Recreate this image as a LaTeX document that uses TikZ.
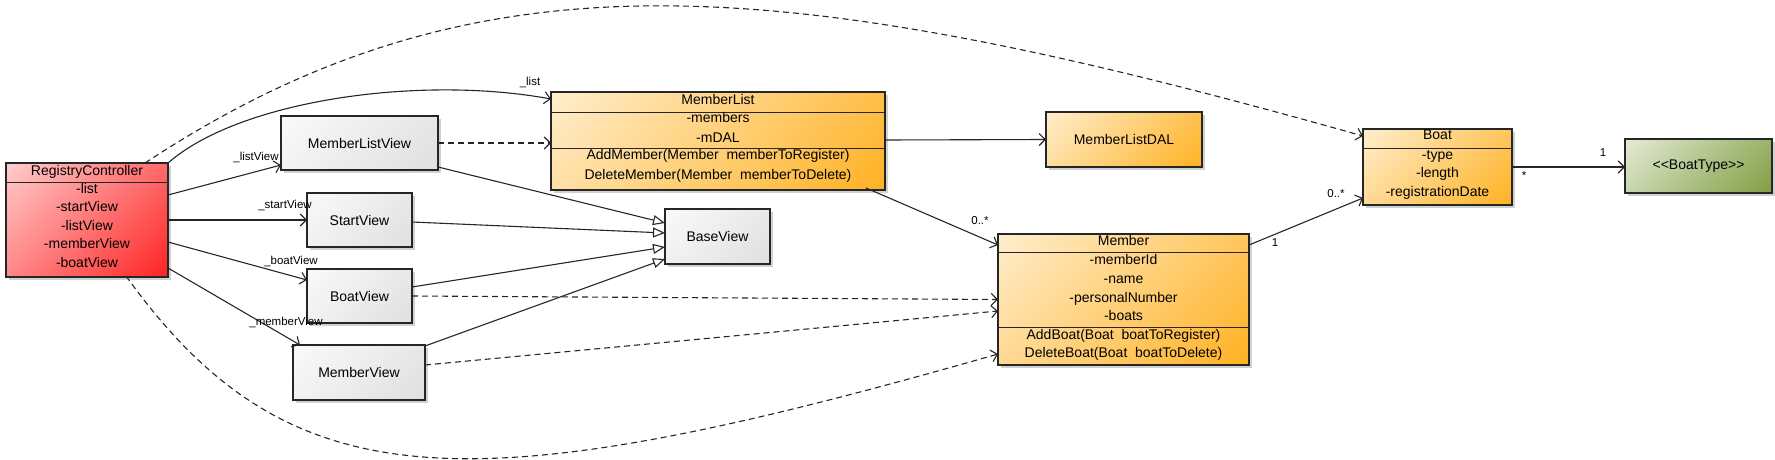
\documentclass[tikz,border=0pt]{standalone}
\usepackage{fontspec}
\setmainfont{Liberation Sans}
\usetikzlibrary{arrows.meta,shadows,calc}
\definecolor{redlo}{HTML}{FF0000}
\definecolor{redhi}{HTML}{FFF0F0}
\definecolor{orlo}{HTML}{FFA500}
\definecolor{orhi}{HTML}{FFFAF0}
\definecolor{grlo}{HTML}{DADADA}
\definecolor{grhi}{HTML}{FFFFFF}
\definecolor{gnlo}{HTML}{6B8E23}
\definecolor{gnhi}{HTML}{F8FAF4}
\pgfdeclareverticalshading{redshade}{100bp}{color(0bp)=(redlo); color(100bp)=(redhi)}
\pgfdeclareverticalshading{orshade}{100bp}{color(0bp)=(orlo); color(100bp)=(orhi)}
\pgfdeclareverticalshading{grshade}{100bp}{color(0bp)=(grlo); color(100bp)=(grhi)}
\pgfdeclareverticalshading{gnshade}{100bp}{color(0bp)=(gnlo); color(100bp)=(gnhi)}
\tikzset{
  boxbase/.style={draw=black!85, line width=1.1pt, inner sep=0pt, outer sep=0pt,
    drop shadow={shadow xshift=3pt, shadow yshift=-3pt, opacity=0.18, fill=black}},
  redbox/.style={boxbase, shade, shading=redshade, shading angle=45},
  orbox/.style={boxbase, shade, shading=orshade, shading angle=45},
  graybox/.style={boxbase, shade, shading=grshade, shading angle=45},
  greenbox/.style={boxbase, shade, shading=gnshade, shading angle=45},
  txt/.style={inner sep=0pt, text height=9pt, text depth=3pt},
  lbl/.style={inner sep=0pt, font=\fontsize{11.5}{13}\selectfont},
  sep/.style={line width=1pt, draw=black!85},
  assoc/.style={line width=1.1pt, draw=black!85, -{Straight Barb[length=6pt,width=12pt]}},
  dep/.style={assoc, dash pattern=on 6pt off 4pt},
  gen/.style={line width=1.1pt, draw=black!85, -{Triangle[open, length=12pt, width=10pt, fill=white]}},
}
\begin{document}
\begin{tikzpicture}[x=1pt, y=-1pt, font=\fontsize{14}{16}\selectfont]
\useasboundingbox (0,0) rectangle (1775,460);

% ---------- boxes ----------
\node[redbox, minimum width=162pt, minimum height=114pt] (rc) at (87,220) {};
\node[graybox, minimum width=157pt, minimum height=54pt] (mlv) at (359.5,143) {MemberListView};
\node[graybox, minimum width=105pt, minimum height=54pt] (sv) at (359.5,220) {StartView};
\node[graybox, minimum width=105pt, minimum height=54pt] (bv) at (359.5,296) {BoatView};
\node[graybox, minimum width=132pt, minimum height=55pt] (mv) at (359,372.5) {MemberView};
\node[graybox, minimum width=105pt, minimum height=55pt] (basev) at (717.5,236.5) {BaseView};
\node[orbox, minimum width=334pt, minimum height=98pt] (ml) at (718,141) {};
\node[orbox, minimum width=156pt, minimum height=55pt] (mldal) at (1124,139.5) {MemberListDAL};
\node[orbox, minimum width=251pt, minimum height=131pt] (mem) at (1123.5,299.5) {};
\node[orbox, minimum width=149pt, minimum height=76pt] (boat) at (1437.5,167) {};
\node[greenbox, minimum width=147pt, minimum height=54pt] (btype) at (1698.5,166) {{<}{<}BoatType{>}{>}};

% ---------- RegistryController ----------
\draw[sep] ($(rc.north west)+(0,19)$) -- ($(rc.north east)+(0,19)$);
\node[txt] (rc0) at (87,172) {RegistryController};
\node[txt] (rc1) at (87,190) {-list};
\node[txt] (rc2) at (87,208) {-startView};
\node[txt] (rc3) at (87,227) {-listView};
\node[txt] (rc4) at (87,245) {-memberView};
\node[txt] (rc5) at (87,264) {-boatView};

% ---------- MemberList ----------
\draw[sep] ($(ml.north west)+(0,20)$) -- ($(ml.north east)+(0,20)$);
\draw[sep] ($(ml.north west)+(0,56)$) -- ($(ml.north east)+(0,56)$);
\node[txt] (ml0) at (718,101) {MemberList};
\node[txt] (ml1) at (718,119) {-members};
\node[txt] (ml2) at (718,139) {-mDAL};
\node[txt] (ml3) at (718,156) {AddMember(Member\ \ memberToRegister)};
\node[txt] (ml4) at (718,176) {DeleteMember(Member\ \ memberToDelete)};

% ---------- Member ----------
\draw[sep] ($(mem.north west)+(0,18)$) -- ($(mem.north east)+(0,18)$);
\draw[sep] ($(mem.north west)+(0,93)$) -- ($(mem.north east)+(0,93)$);
\node[txt] (m0) at (1123.5,242) {Member};
\node[txt] (m1) at (1123.5,261) {-memberId};
\node[txt] (m2) at (1123.5,280) {-name};
\node[txt] (m3) at (1123.5,299) {-personalNumber};
\node[txt] (m4) at (1123.5,317) {-boats};
\node[txt] (m5) at (1123.5,336) {AddBoat(Boat\ \ boatToRegister)};
\node[txt] (m6) at (1123.5,354) {DeleteBoat(Boat\ \ boatToDelete)};

% ---------- Boat ----------
\draw[sep] ($(boat.north west)+(0,19)$) -- ($(boat.north east)+(0,19)$);
\node[txt] (b0) at (1437.5,136) {Boat};
\node[txt] (b1) at (1437.5,156) {-type};
\node[txt] (b2) at (1437.5,174) {-length};
\node[txt] (b3) at (1437.5,193) {-registrationDate};

% ---------- connectors ----------
\draw[assoc] (rc.north east) .. controls (240,100) and (420,75) .. ($(ml.north west)+(0,7)$);
\draw[assoc] ($(rc.east)+(0,-25)$) -- ($(mlv.south west)+(0,-5)$);
\draw[assoc] (rc.east) -- (sv.west);
\draw[assoc] ($(rc.east)+(0,22)$) -- ($(bv.west)+(0,-16)$);
\draw[assoc] ($(rc.east)+(0,48)$) -- ($(mv.north west)+(7,0)$);

\draw[dep] ($(rc.north west)+(139,0)$) .. controls (479,-57) and (784,-27) .. ($(boat.west)+(0,-31)$);
\draw[dep] ($(rc.south west)+(120,-1)$) .. controls (290,504) and (470,505) .. ($(mem.south west)+(0,-11)$);

\draw[dep] (mlv.east) -- (mlv.east -| ml.west);

\draw[gen] ($(mlv.south east)+(0,-3)$) -- ($(basev.west)+(0,-13.5)$);
\draw[gen] ($(sv.east)+(0,2)$) -- ($(basev.west)+(0,-3.5)$);
\draw[gen] ($(bv.east)+(0,-9)$) -- ($(basev.west)+(0,10.5)$);
\draw[gen] ($(mv.north east)+(0,1)$) -- ($(basev.west)+(0,22.5)$);

\draw[dep] (bv.east) -- (mem.west);
\draw[dep] ($(mv.east)+(0,-7.5)$) -- ($(mem.west)+(0,11.5)$);

\draw[assoc] ($(ml.east)+(0,-1)$) -- (mldal.west);
\draw[assoc] ($(ml.south east)+(-19,-2)$) -- ($(mem.north west)+(0,11)$);
\draw[assoc] ($(mem.north east)+(0,11)$) -- ($(boat.south west)+(0,-7)$);
\draw[assoc] (boat.east) -- (boat.east -| btype.west);

% ---------- labels ----------
\node[lbl] (l1) at (530,82) {\_list};
\node[lbl] (l2) at (256,157) {\_listView};
\node[lbl] (l3) at (285,205) {\_startView};
\node[lbl] (l4) at (291,261) {\_boatView};
\node[lbl] (l5) at (286,322) {\_memberView};
\node[lbl] (l6) at (980,221) {0..*};
\node[lbl] (l7) at (1275,243) {1};
\node[lbl] (l8) at (1336,194) {0..*};
\node[lbl] (l9) at (1524,176) {*};
\node[lbl] (l10) at (1603,153) {1};
\end{tikzpicture}
\end{document}
